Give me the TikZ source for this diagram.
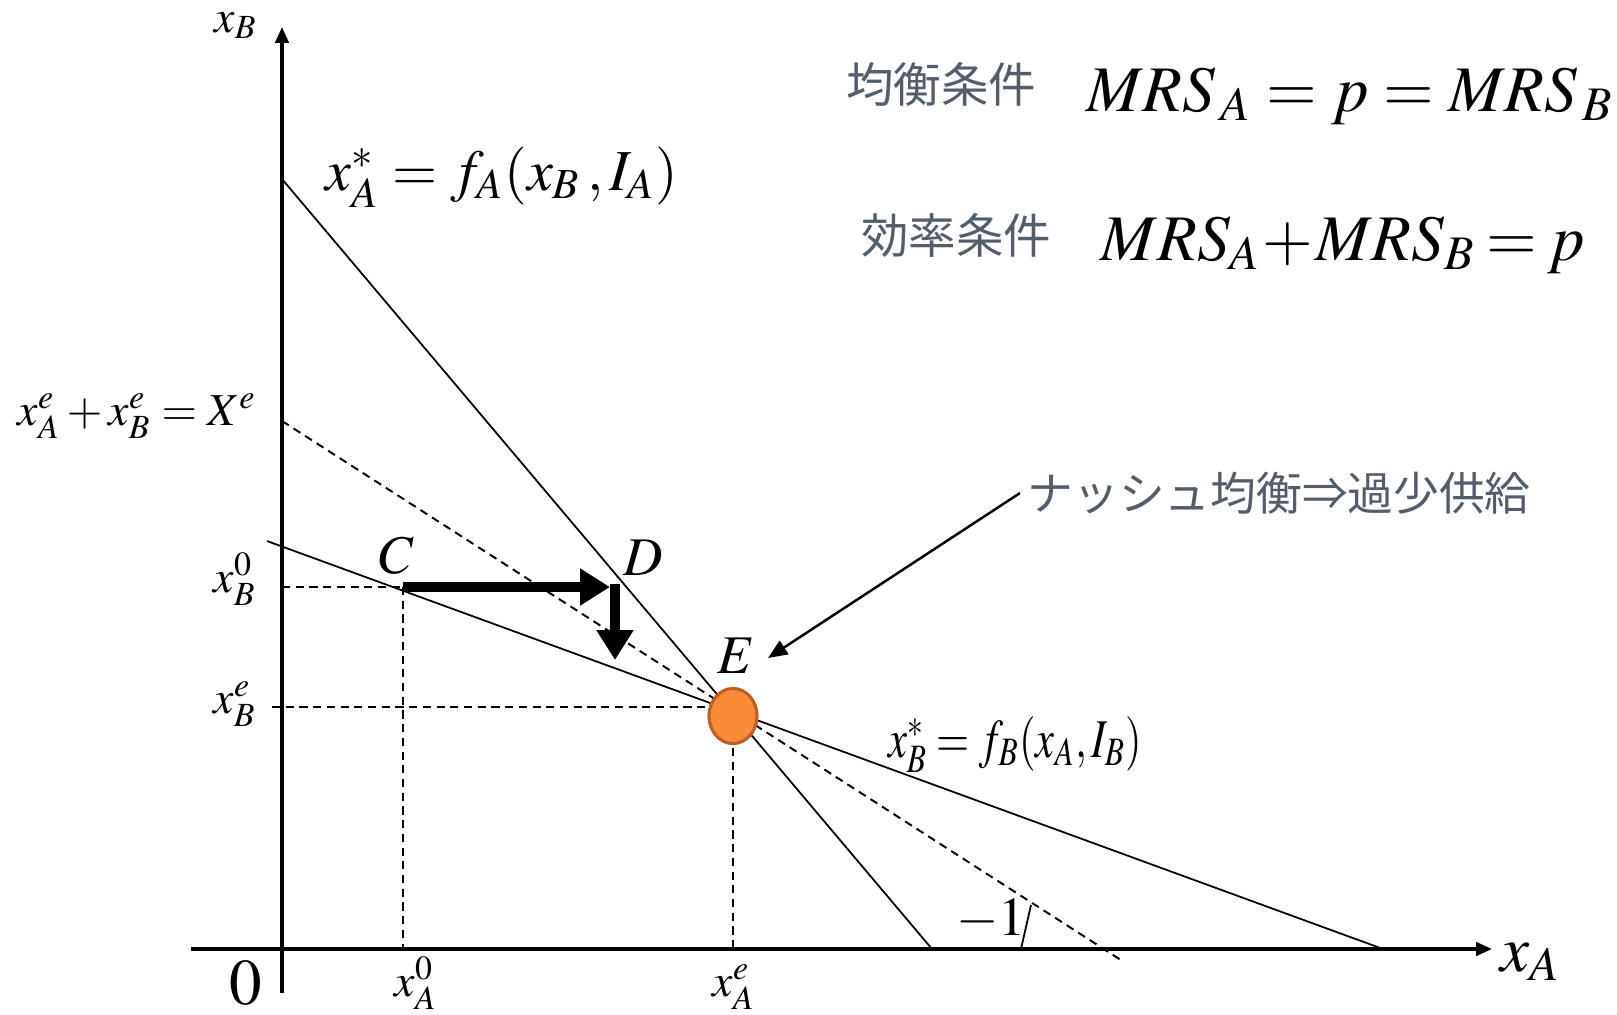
\documentclass[tikz,border=0pt]{standalone}
\usepackage{mathptmx}
\usepackage[no-math]{fontspec}
\setmainfont{Liberation Serif}
\newfontfamily\jpfont{Noto Sans CJK JP}
\usepackage{graphicx}
\definecolor{jgray}{RGB}{84, 93, 106}
\definecolor{eqfill}{RGB}{250, 139, 56}
\definecolor{eqdraw}{RGB}{190, 95, 38}
\usetikzlibrary{arrows.meta, shapes.geometric}
\tikzset{
	axis/.style={line width=0.9pt, -{Triangle[length=4.5pt, width=3.8pt]}},
	curve/.style={line width=0.5pt},
	guide/.style={line width=0.55pt, dash pattern=on 2.3pt off 1.6pt},
	move/.style={line width=2.9pt, -{Triangle[length=8.5pt, width=10pt]}},
	pointer/.style={line width=0.7pt, -{Triangle[length=5.5pt, width=4.5pt]}},
	eqpt/.style={ellipse, draw=eqdraw, fill=eqfill, line width=0.9pt, minimum width=0.48cm, minimum height=0.55cm, inner sep=0pt},
	small/.style={inner sep=0pt, font=\fontsize{13}{15}\selectfont},
	mid/.style={inner sep=0pt, font=\fontsize{15.5}{18}\selectfont},
	big/.style={inner sep=0pt, font=\fontsize{18.5}{22}\selectfont},
	jlabel/.style={inner sep=0pt, text=jgray, font=\jpfont\fontsize{13}{15}\selectfont},
}
\begin{document}
\begin{tikzpicture}[x=0.01cm, y=-0.01cm]
	\useasboundingbox (0,0) rectangle (1617,1014);
	% axes
	\coordinate (O) at (282,949);
	\coordinate (xl) at (191,949);
	\coordinate (xr) at (1492,949);
	\coordinate (yb) at (282,993);
	\coordinate (yt) at (282,27);
	\draw[axis] (xl) -- (xr);
	\draw[axis] (yb) -- (yt);
	% reaction curves and the dashed line
	\coordinate (fa1) at (282,179);
	\coordinate (fa2) at (932,949);
	\coordinate (fb1) at (267,541);
	\coordinate (fb2) at (1383,949);
	\coordinate (xe1) at (282,421);
	\coordinate (xe2) at (1124,962);
	\draw[curve] (fa1) -- (fa2);
	\draw[curve] (fb1) -- (fb2);
	\draw[guide] (xe1) -- (xe2);
	\coordinate (sl1) at (1021,949);
	\coordinate (sl2) at (1031,905);
	\draw[curve] (sl1) -- (sl2);
	% guides
	\coordinate (C) at (403,587);
	\coordinate (xB0) at (282,587);
	\coordinate (xA0) at (403,949);
	\draw[guide] (xB0) -- (C);
	\draw[guide] (C) -- (xA0);
	\coordinate (xBe) at (272,707);
	\coordinate (Eb) at (733,707);
	\coordinate (xAe) at (733,949);
	\draw[guide] (xBe) -- (Eb);
	\draw[guide] (Eb) -- (xAe);
	% adjustment C -> D -> E
	\coordinate (Dh) at (610,587);
	\coordinate (Dv) at (615,584);
	\coordinate (Dd) at (615,660);
	\draw[move] (C) -- (Dh);
	\draw[move] (Dv) -- (Dd);
	\node[eqpt] (E) at (733,716) {};
	% labels
	\node[small, anchor=base] (lxB) at (236,32) {$x_B$};
	\node[big, anchor=base] (lxA) at (1531,971) {$x_A$};
	\node[big, anchor=base] (l0) at (246,1004) {$0$};
	\node[small, anchor=base] (lxA0) at (416,996) {$x_A^0$};
	\node[small, anchor=base] (lxAe) at (734,996) {$x_A^e$};
	\node[small, anchor=base] (lxB0) at (235,592) {$x_B^0$};
	\node[small, anchor=base] (lxBe) at (235,713) {$x_B^e$};
	\node[small, anchor=base] (lsum) at (137,425) {$x_A^e+x_B^e=X^e$};
	\node[mid, anchor=base, font=\fontsize{16.5}{19}\selectfont] (lfA) at (502,190) {$x_A^{*}=f_A(x_B\,,I_A)$};
	\node[mid, anchor=base] (lfB) at (1015,757) {\scalebox{0.78}[1]{$x_B^{*}=f_B(x_A,I_B)$}};
	\node[mid, anchor=base] (lslope) at (991,935) {$-1$};
	\node[mid] (lC) at (397,556) {$C$};
	\node[mid] (lD) at (643,558) {$D$};
	\node[mid] (lE) at (736,656) {$E$};
	% conditions
	\node[jlabel, font=\jpfont\fontsize{13.5}{15}\selectfont] (cond1) at (941,84) {均衡条件};
	\node[big, anchor=base] (mrs1) at (1350,111) {$MRS_{\,A}=p=MRS_{\,B}$};
	\node[jlabel, font=\jpfont\fontsize{13.5}{15}\selectfont] (cond2) at (956,235) {効率条件};
	\node[big, anchor=base] (mrs2) at (1343,260) {$MRS_A\mkern-2mu+\mkern-2mu MRS_B\mkern-1mu=\mkern-1mu p$};
	% annotation
	\node[jlabel, anchor=west, inner sep=2pt] (nash) at (1020,493) {ナッシュ均衡⇒過少供給};
	\coordinate (Etip) at (768,658);
	\draw[pointer] (nash.west) -- (Etip);
\end{tikzpicture}
\end{document}
